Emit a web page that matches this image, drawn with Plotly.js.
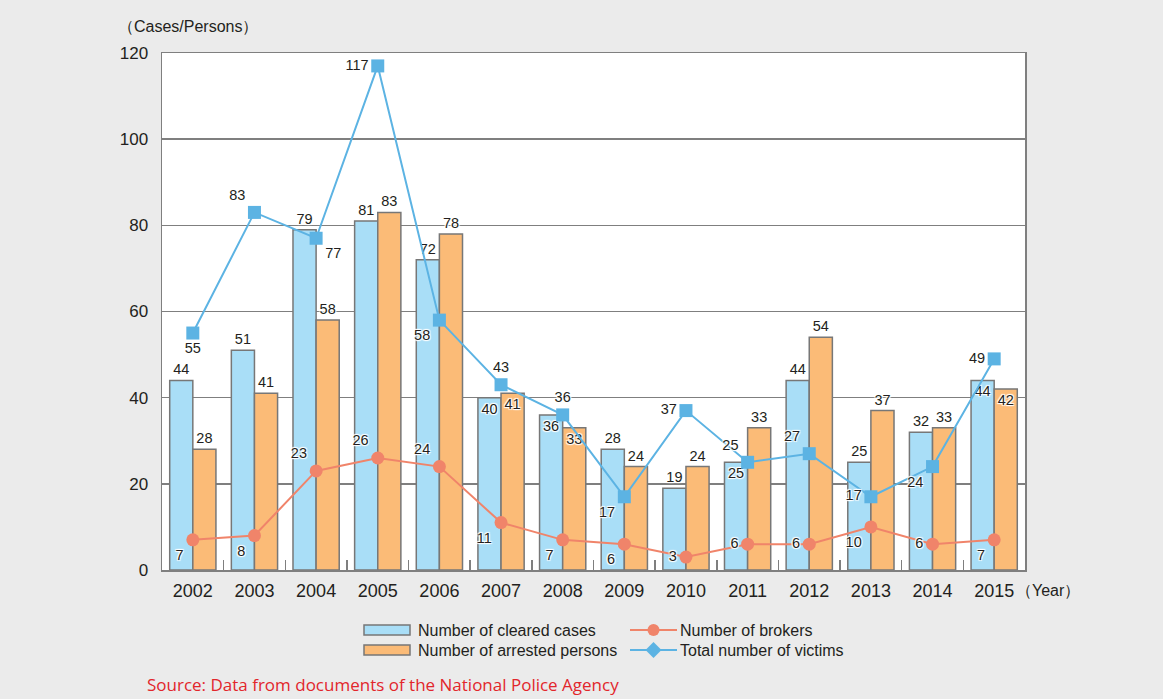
<!DOCTYPE html>
<html><head><meta charset="utf-8">
<script src="https://cdn.plot.ly/plotly-3.0.1.min.js"></script>
<style>html,body{margin:0;padding:0;background:#ebebeb;}</style>
</head><body>
<div id="chart" style="width:1163px;height:699px;"></div>
<script>
const years = ['2002','2003','2004','2005','2006','2007','2008','2009','2010','2011','2012','2013','2014','2015'];
const clearedCases = [44,51,79,81,72,40,36,28,19,25,44,25,32,44];
const arrestedPersons = [28,41,58,83,78,41,33,24,24,33,54,37,33,42];
const brokers = [7,8,23,26,24,11,7,6,3,6,6,10,6,7];
const victims = [55,83,77,117,58,43,36,17,37,25,27,17,24,49];

const clearedPos = ['outside','outside','outside','outside','outside','inside','inside','outside','outside','inside','outside','outside','outside','inside'];
const arrestedPos = ['outside','outside','outside','outside','outside','inside','inside','outside','outside','outside','outside','outside','outside','inside'];
const victimsPos = ['bottom center','top left','bottom right','middle left','bottom left','top center','top center','bottom left','middle left','top left','top left','middle left','bottom left','middle left'];
const brokersPos = ['bottom left','bottom left','top left','top left','top left','bottom left','bottom left','bottom left','middle left','middle left','middle left','bottom left','middle left','bottom left'];

const txt = '#231f20';
const fontFam = '"Liberation Sans", Arial, sans-serif';
const blue = '#a9def7', orange = '#fbbb77', edge = '#777777';
const brokerCol = '#f0846a', victimCol = '#5cb3e3';
const lblFont = {family: fontFam, size: 14.5, color: txt, shadow: '1px 1px 1px #fff, -1px -1px 1px #fff, 1px -1px 1px #fff, -1px 1px 1px #fff'};

const traces = [
  {type:'bar', x: years, y: clearedCases, name:'Number of cleared cases',
   marker:{color: blue, line:{color: edge, width:1.5}},
   text: clearedCases.map(String), textposition: clearedPos, insidetextanchor:'end',
   textfont: lblFont, insidetextfont: lblFont, outsidetextfont: lblFont,
   constraintext:'none', cliponaxis:false, hoverinfo:'skip'},
  {type:'bar', x: years, y: arrestedPersons, name:'Number of arrested persons',
   marker:{color: orange, line:{color: edge, width:1.5}},
   text: arrestedPersons.map(String), textposition: arrestedPos, insidetextanchor:'end',
   textfont: lblFont, insidetextfont: lblFont, outsidetextfont: lblFont,
   constraintext:'none', cliponaxis:false, hoverinfo:'skip'},
  {type:'scatter', mode:'lines+markers+text', x: years, y: brokers, name:'Number of brokers',
   line:{color: brokerCol, width:2}, marker:{color: brokerCol, size:13, symbol:'circle'},
   text: brokers.map(String), textposition: brokersPos, textfont: lblFont, cliponaxis:false},
  {type:'scatter', mode:'lines+markers+text', x: years, y: victims, name:'Total number of victims',
   line:{color: victimCol, width:2}, marker:{color: victimCol, size:13, symbol:'square'},
   text: victims.map(String), textposition: victimsPos, textfont: lblFont, cliponaxis:false}
];

// plot area: x 162..1025, y 53..570
const px = v => (v - 162) / 863;
const py = v => (570 - v) / 517;

const shapes = [
  {type:'rect', xref:'paper', yref:'paper', xsizemode:'pixel', ysizemode:'pixel',
   xanchor: px(364), yanchor: py(630), x0:0, x1:46, y0:-5, y1:5,
   fillcolor: blue, line:{color: edge, width:1.5}},
  {type:'rect', xref:'paper', yref:'paper', xsizemode:'pixel', ysizemode:'pixel',
   xanchor: px(364), yanchor: py(650), x0:0, x1:46, y0:-5, y1:5,
   fillcolor: orange, line:{color: edge, width:1.5}},
  {type:'line', xref:'paper', yref:'paper', xsizemode:'pixel', ysizemode:'pixel',
   xanchor: px(630), yanchor: py(630), x0:0, x1:47, y0:0, y1:0,
   line:{color: brokerCol, width:2}},
  {type:'circle', xref:'paper', yref:'paper', xsizemode:'pixel', ysizemode:'pixel',
   xanchor: px(653.5), yanchor: py(630), x0:-6, x1:6, y0:-6, y1:6,
   fillcolor: brokerCol, line:{color: brokerCol, width:0}},
  {type:'line', xref:'paper', yref:'paper', xsizemode:'pixel', ysizemode:'pixel',
   xanchor: px(630), yanchor: py(650), x0:0, x1:47, y0:0, y1:0,
   line:{color: victimCol, width:2}},
  {type:'path', xref:'paper', yref:'paper', xsizemode:'pixel', ysizemode:'pixel',
   xanchor: px(653.5), yanchor: py(650), path:'M0,-8 L8,0 L0,8 L-8,0 Z',
   fillcolor: victimCol, line:{color: victimCol, width:0}}
];

const annFont = {family: fontFam, size: 16, color: txt};
const annotations = [
  {xref:'paper', yref:'paper', x: px(416), y: py(630), xanchor:'left', yanchor:'middle', showarrow:false, text:'Number of cleared cases', font: annFont},
  {xref:'paper', yref:'paper', x: px(416), y: py(650), xanchor:'left', yanchor:'middle', showarrow:false, text:'Number of arrested persons', font: annFont},
  {xref:'paper', yref:'paper', x: px(678), y: py(630), xanchor:'left', yanchor:'middle', showarrow:false, text:'Number of brokers', font: annFont},
  {xref:'paper', yref:'paper', x: px(678), y: py(650), xanchor:'left', yanchor:'middle', showarrow:false, text:'Total number of victims', font: annFont},
  {xref:'paper', yref:'paper', x: px(116), y: py(27), xanchor:'left', yanchor:'middle', showarrow:false, text:'（Cases/Persons）', font: annFont},
  {xref:'paper', yref:'paper', x: px(1014), y: py(590), xanchor:'left', yanchor:'middle', showarrow:false, text:'（Year）', font: annFont},
  {xref:'paper', yref:'paper', x: px(145), y: py(684), xanchor:'left', yanchor:'middle', showarrow:false,
   text:'Source: Data from documents of the National Police Agency', font:{family:'"Open Sans", sans-serif', size:17, color:'#e2262b'}}
];

const layout = {
  width:1163, height:699,
  margin:{l:162, r:138, t:53, b:129, pad:0},
  paper_bgcolor:'#ebebeb', plot_bgcolor:'#ffffff',
  showlegend:false,
  barmode:'group', bargap:0.25, bargroupgap:0,
  font:{family: fontFam, color: txt},
  xaxis:{type:'category', range:[-0.5, 13.5], autorange:false, showgrid:false, zeroline:false, showline:true, mirror:true,
    linecolor:'#7f7f7f', linewidth:1.5, ticks:'inside', tickson:'boundaries', ticklen:10,
    tickcolor:'#7f7f7f', tickwidth:1.5, ticklabelstandoff:4, tickfont:{family: fontFam, size:18, color: txt}, fixedrange:true},
  yaxis:{range:[0,120], autorange:false, dtick:20, showgrid:true, gridcolor:'#7f7f7f', gridwidth:1.5,
    zeroline:false, showline:true, mirror:true, linecolor:'#7f7f7f', linewidth:1.5,
    ticks:'', ticklabelstandoff:9, tickfont:{family: fontFam, size:17, color: txt}, fixedrange:true},
  shapes: shapes,
  annotations: annotations
};

Plotly.newPlot('chart', traces, layout, {displayModeBar:false, staticPlot:true});
</script>
</body></html>
